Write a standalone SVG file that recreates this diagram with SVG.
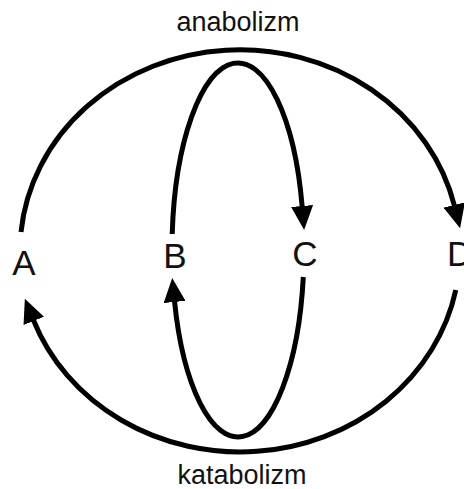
<svg xmlns="http://www.w3.org/2000/svg" width="464" height="489" viewBox="0 0 464 489">
  <style>
    .node { font-family: "Liberation Sans", Arial, sans-serif; font-size: 35px; fill: #111; text-anchor: middle; }
    .lbl { font-family: "Liberation Sans", Arial, sans-serif; font-size: 27px; fill: #111; text-anchor: middle; }
    .conn { fill: none; stroke: #000; stroke-width: 5; }
  </style>
  <defs>
    <marker id="ah" markerUnits="userSpaceOnUse" viewBox="0 0 24 22" markerWidth="24" markerHeight="22" refX="1" refY="11" orient="auto">
      <path d="M0,0 L24,11 L0,22 z" fill="#000"/>
    </marker>
  </defs>
  <rect width="464" height="489" fill="#fff"/>
  <g id="connectors">
    <path class="conn" d="M21,232 A220,201 0 0 1 454.5,206" marker-end="url(#ah)"/>
    <path class="conn" d="M172.2,234 A66,187 0 0 1 302.2,207" marker-end="url(#ah)"/>
    <path class="conn" d="M455.8,290 A220,201 0 0 1 33.4,320" marker-end="url(#ah)"/>
    <path class="conn" d="M303.3,277 A66,187 0 0 1 174.5,301" marker-end="url(#ah)"/>
  </g>
  <g id="labels">
    <text class="lbl" x="238" y="31">anabolizm</text>
    <text class="lbl" x="242" y="484">katabolizm</text>
  </g>
  <g id="node-A"><text class="node" x="24" y="275">A</text></g>
  <g id="node-B"><text class="node" x="175" y="268">B</text></g>
  <g id="node-C"><text class="node" x="305" y="266">C</text></g>
  <g id="node-D"><text class="node" x="447" y="266" style="text-anchor:start">D</text></g>
</svg>
